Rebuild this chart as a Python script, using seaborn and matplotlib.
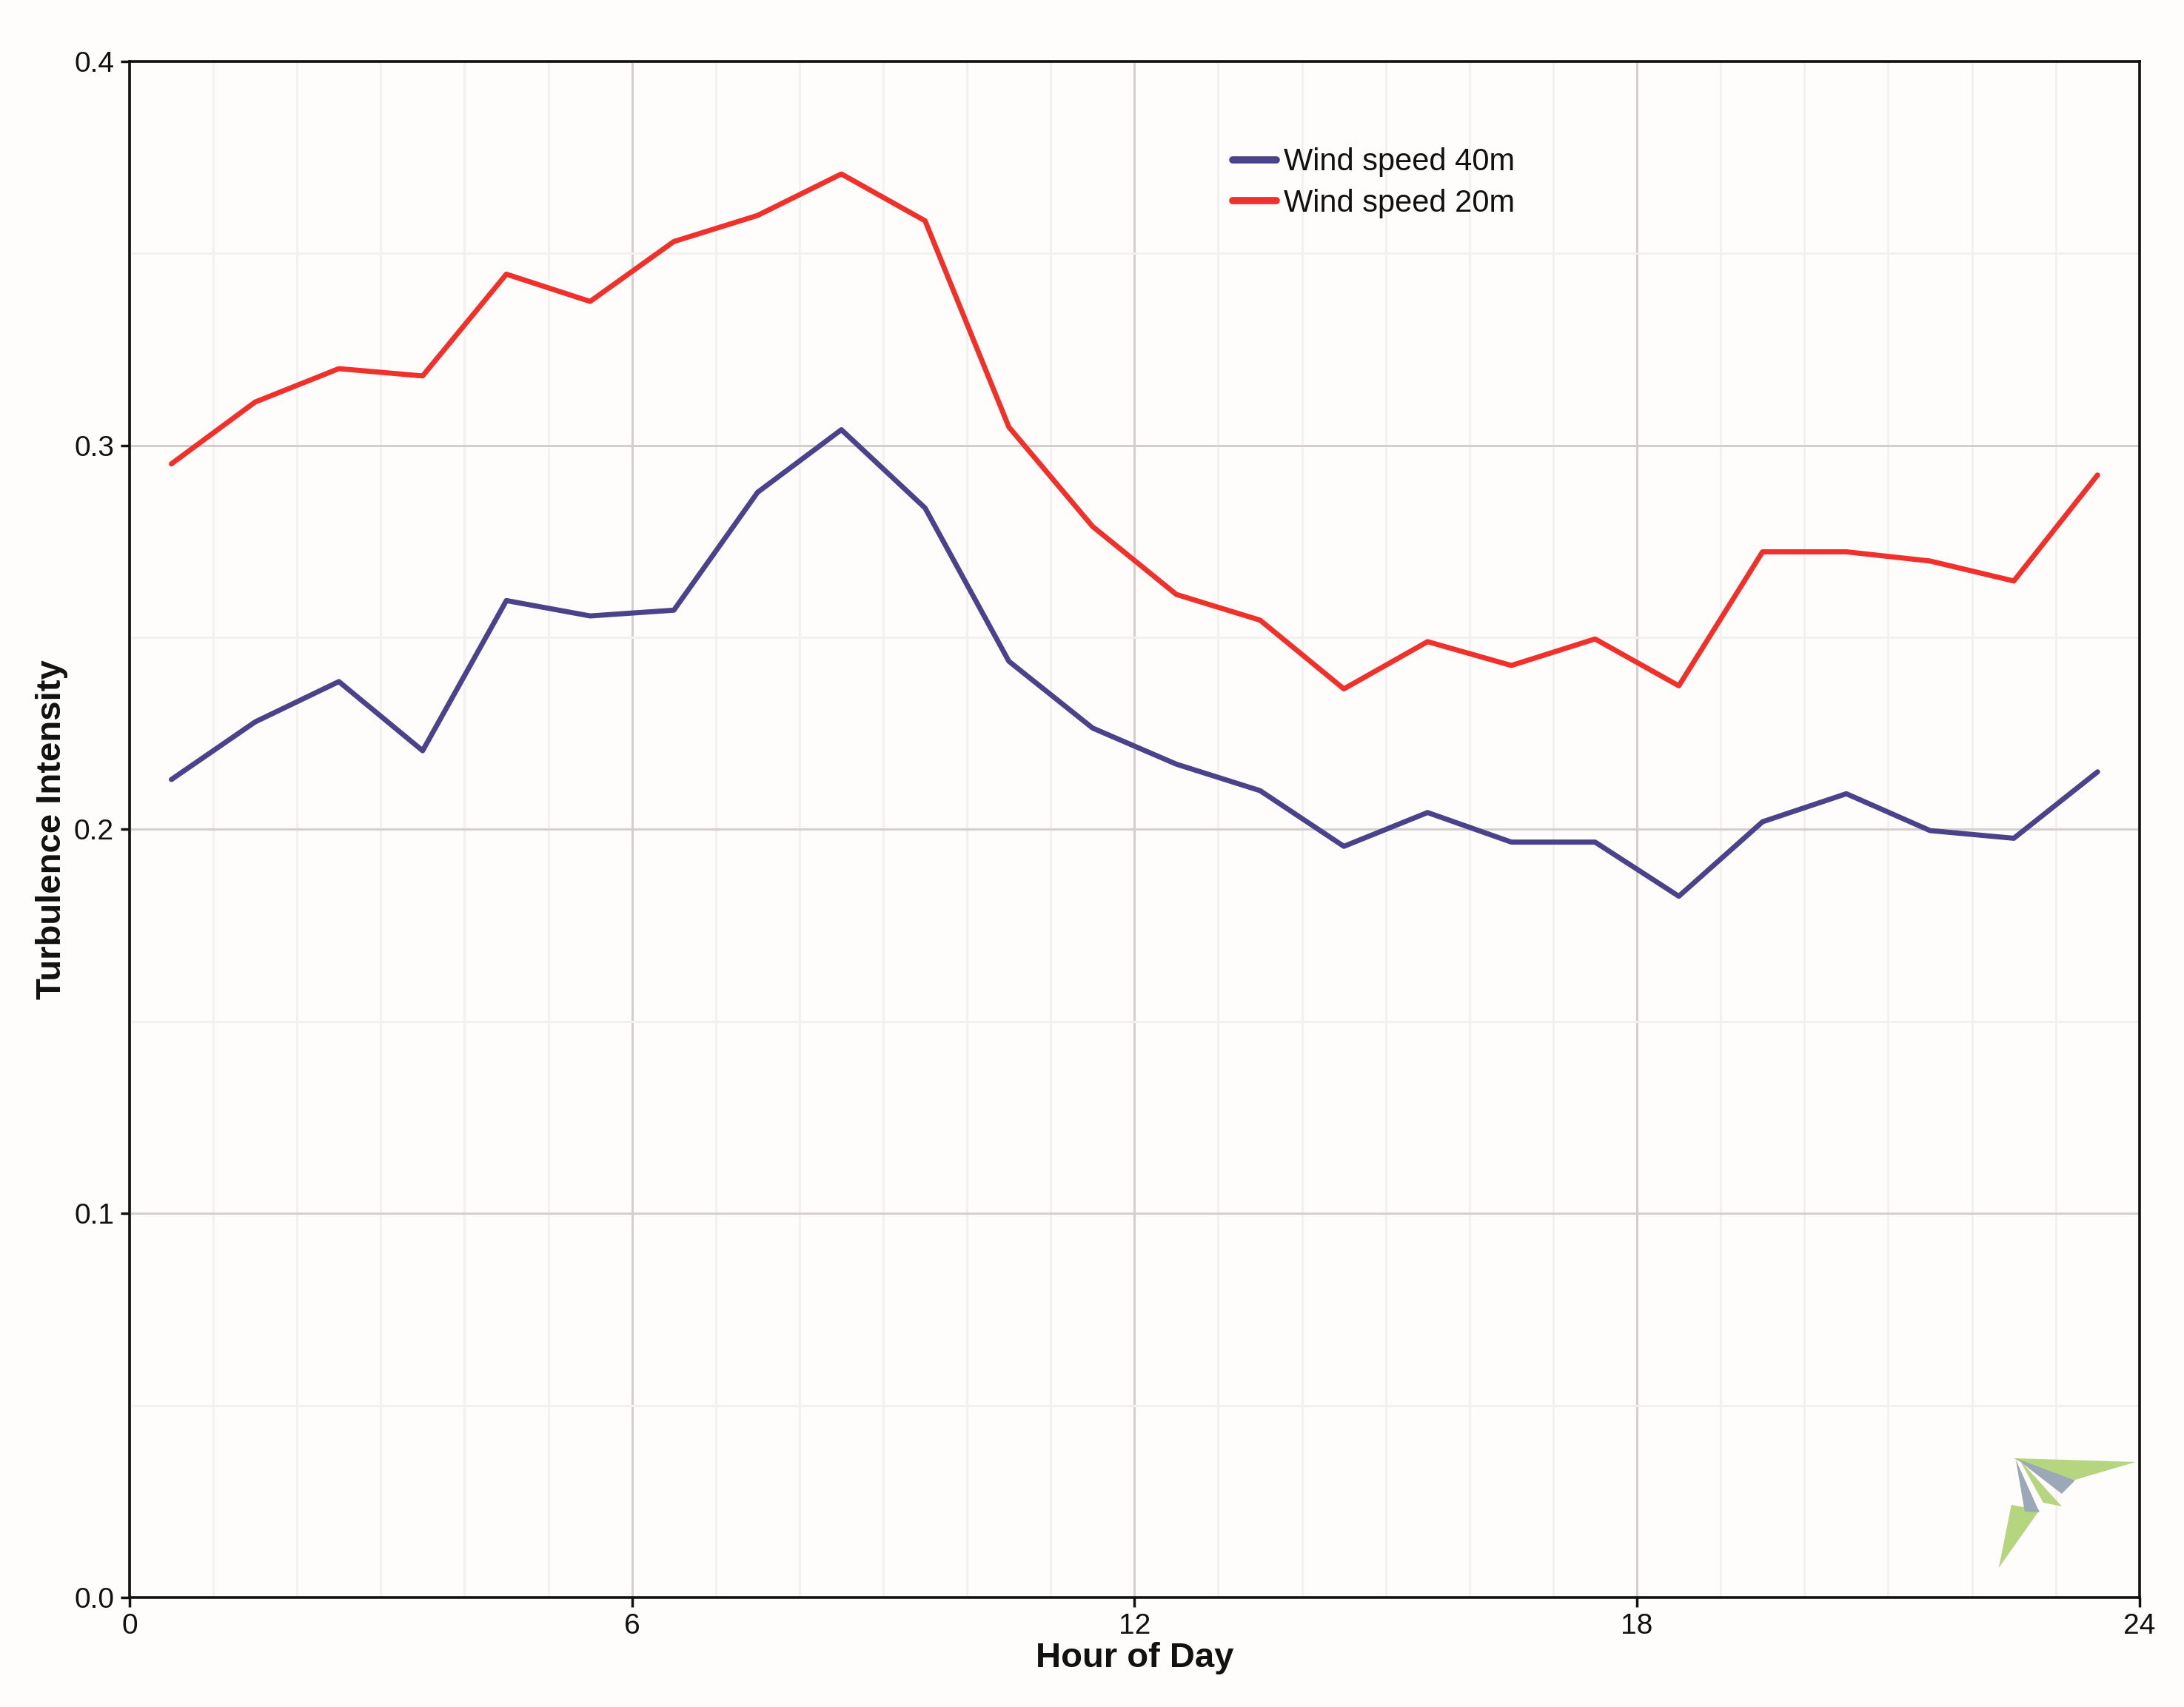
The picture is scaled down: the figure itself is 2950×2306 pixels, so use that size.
import matplotlib
matplotlib.use("Agg")
import matplotlib.pyplot as plt
from matplotlib.patches import Polygon
from matplotlib.lines import Line2D
from matplotlib.ticker import MultipleLocator, FormatStrFormatter
import seaborn as sns
import pandas as pd
import numpy as np

# Hourly mean turbulence intensity, plotted at the half hour
hours = [0.5, 1.5, 2.5, 3.5, 4.5, 5.5, 6.5, 7.5, 8.5, 9.5, 10.5, 11.5,
         12.5, 13.5, 14.5, 15.5, 16.5, 17.5, 18.5, 19.5, 20.5, 21.5, 22.5, 23.5]
ti_40m = [0.213, 0.228, 0.2385, 0.2205, 0.2596, 0.2556, 0.2571, 0.2878, 0.3041, 0.2837, 0.2438, 0.2264,
          0.2170, 0.2101, 0.1956, 0.2044, 0.1967, 0.1967, 0.1826, 0.2020, 0.2093, 0.1997, 0.1977, 0.2150]
ti_20m = [0.2952, 0.3113, 0.3200, 0.3181, 0.3446, 0.3375, 0.3531, 0.3599, 0.3707, 0.3585, 0.3048, 0.2789,
          0.2612, 0.2545, 0.2366, 0.2489, 0.2427, 0.2496, 0.2374, 0.2723, 0.2723, 0.2699, 0.2647, 0.2923]
series_names = ["Wind speed 40m", "Wind speed 20m"]
series_colors = ["#4a438c", "#f0302a"]

df = pd.DataFrame({"hour": hours * 2,
                   "ti": ti_40m + ti_20m,
                   "series": [series_names[0]] * len(hours) + [series_names[1]] * len(hours)})

sns.set_theme(style="white")
plt.rcParams["font.family"] = ["Liberation Sans", "DejaVu Sans"]
plt.rcParams["text.color"] = "#111111"
plt.rcParams["axes.labelcolor"] = "#111111"
plt.rcParams["xtick.color"] = "#111111"
plt.rcParams["ytick.color"] = "#111111"

fig = plt.figure(figsize=(29.5, 23.06), dpi=100)
fig.patch.set_facecolor("#fefdfc")
ax = fig.add_axes([0.0593, 0.0642, 0.9203, 0.8998])
ax.set_facecolor("#fefdfc")

sns.lineplot(data=df, x="hour", y="ti", hue="series", palette=series_colors,
             hue_order=series_names, linewidth=5, ax=ax, legend=False)

ax.set_xlim(0, 24)
ax.set_ylim(0, 0.4)
ax.xaxis.set_major_locator(MultipleLocator(6))
ax.xaxis.set_minor_locator(MultipleLocator(1))
ax.yaxis.set_major_locator(MultipleLocator(0.1))
ax.yaxis.set_minor_locator(MultipleLocator(0.05))
ax.yaxis.set_major_formatter(FormatStrFormatter("%.1f"))

ax.grid(which="major", color="#d3cfcc", linewidth=2.2)
ax.grid(which="minor", color="#f3f1f0", linewidth=2.2)
ax.set_axisbelow(True)

for side in ["left", "right", "top", "bottom"]:
    ax.spines[side].set_visible(True)
    ax.spines[side].set_color("#111111")
    ax.spines[side].set_linewidth(2.6)

ax.tick_params(axis="both", which="major", direction="out", length=9, width=2.5,
               color="#111111", labelsize=28, pad=6, bottom=True, left=True)
ax.tick_params(axis="both", which="minor", length=0)

ax.set_xlabel("Hour of Day", fontsize=34, fontweight="bold", labelpad=2)
ax.set_ylabel("Turbulence Intensity", fontsize=34, fontweight="bold", labelpad=6)

handles = [Line2D([0], [0], color=c, linewidth=7, solid_capstyle="round") for c in series_colors]
ax.legend(handles, series_names, loc="upper left", bbox_to_anchor=(0.549, 0.944),
          frameon=False, fontsize=30, handlelength=1.4, handletextpad=0.25,
          labelspacing=0.38, borderpad=0, borderaxespad=0)

# small kite logo in the lower right corner
def to_ax(pts):
    return [((px - 175) / 2715, (2158 - py) / 2075) for px, py in pts]

logo_parts = [
    ([(2720, 1970), (2885, 1975), (2800, 2000), (2778, 2012), (2760, 1990)], "#b5d57e"),
    ([(2717, 2033), (2700, 2118), (2755, 2040)], "#b5d57e"),
    ([(2723, 1970), (2803, 2000), (2785, 2018)], "#9aa8b8"),
    ([(2723, 1972), (2755, 2043), (2735, 2042)], "#9aa8b8"),
    ([(2728, 1972), (2785, 2035), (2760, 2030)], "#b5d57e"),
]
for pts, col in logo_parts:
    ax.add_patch(Polygon(to_ax(pts), closed=True, transform=ax.transAxes,
                         facecolor=col, edgecolor="none", zorder=1))

fig.savefig("out.png", dpi=100, facecolor=fig.get_facecolor())
